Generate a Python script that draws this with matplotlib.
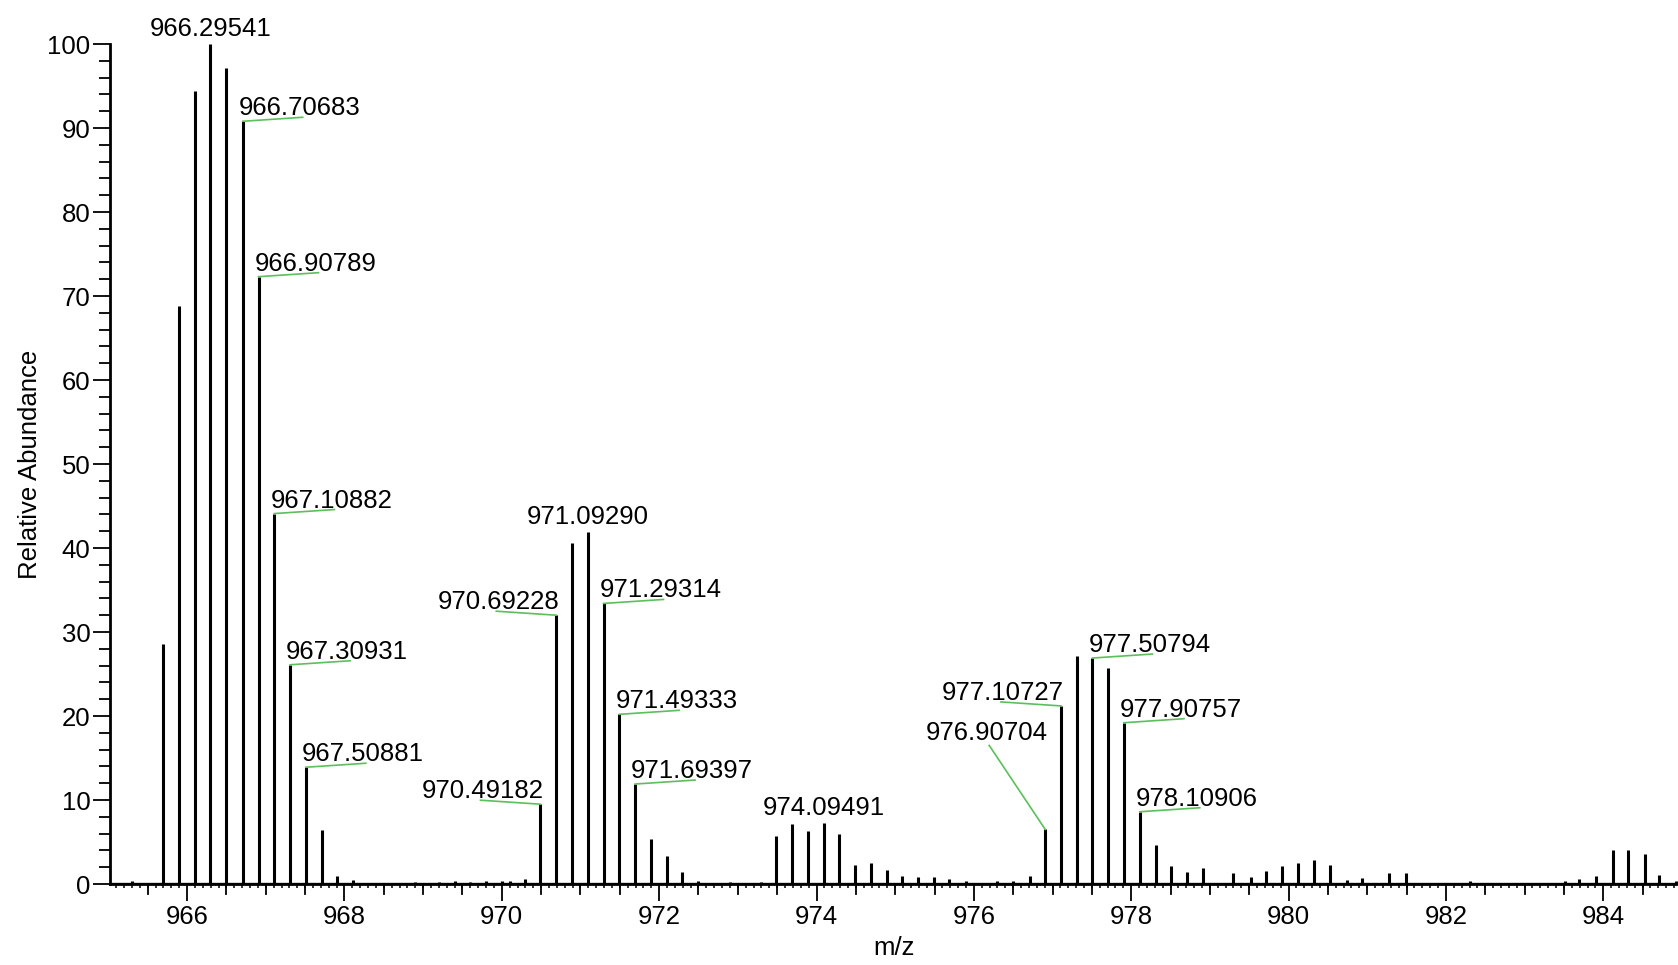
import matplotlib
matplotlib.use('Agg')
import matplotlib.pyplot as plt
from matplotlib.ticker import MultipleLocator

# peak list (m/z, relative abundance)
peak_mz = [
    965.30, 965.695, 965.895, 966.095, 966.29541, 966.50, 966.70683, 966.90789,
    967.10882, 967.30931, 967.50881, 967.71, 967.91, 968.11,
    968.90, 969.20, 969.40, 969.60, 969.80, 970.00, 970.10, 970.29,
    970.49182, 970.69228, 970.892, 971.09290, 971.29314, 971.49333, 971.69397,
    971.894, 972.094, 972.294, 972.49, 972.90, 973.30,
    973.49, 973.69, 973.89, 974.09491, 974.29, 974.49, 974.69, 974.89,
    975.09, 975.29, 975.49, 975.69, 975.90, 976.30, 976.50, 976.71,
    976.90704, 977.10727, 977.307, 977.50794, 977.708, 977.90757, 978.10906,
    978.31, 978.51, 978.71, 978.91, 979.30, 979.52, 979.71, 979.92,
    980.12, 980.32, 980.53, 980.74, 980.93, 981.28, 981.49, 982.30,
    983.52, 983.69, 983.91, 984.12, 984.32, 984.53, 984.71, 984.92,
]
peak_int = [
    0.3, 28.6, 68.8, 94.4, 100.0, 97.1, 90.8, 72.3,
    44.1, 26.1, 13.9, 6.4, 0.9, 0.5,
    0.2, 0.2, 0.3, 0.2, 0.3, 0.4, 0.3, 0.6,
    9.5, 32.0, 40.6, 41.9, 33.4, 20.2, 11.9,
    5.4, 3.3, 1.4, 0.4, 0.2, 0.2,
    5.7, 7.1, 6.3, 7.3, 5.9, 2.3, 2.5, 1.7,
    1.0, 0.8, 0.8, 0.6, 0.4, 0.3, 0.4, 1.0,
    6.5, 21.2, 27.1, 26.9, 25.7, 19.2, 8.6,
    4.6, 2.2, 1.4, 1.9, 1.3, 0.8, 1.6, 2.2,
    2.5, 2.8, 2.3, 0.5, 0.7, 1.3, 1.3, 0.3,
    0.3, 0.6, 0.9, 4.0, 4.0, 3.6, 1.1, 0.4,
]

# labelled peaks and where the label sits
label_mz = [966.29541, 966.70683, 966.90789, 967.10882, 967.30931, 967.50881,
            970.49182, 970.69228, 971.09290, 971.29314, 971.49333, 971.69397,
            974.09491, 976.90704, 977.10727, 977.50794, 977.90757, 978.10906]
label_int = [100.0, 90.8, 72.3, 44.1, 26.1, 13.9,
             9.5, 32.0, 41.9, 33.4, 20.2, 11.9,
             7.3, 6.5, 21.2, 26.9, 19.2, 8.6]
label_side = ['top', 'right', 'right', 'right', 'right', 'right',
              'left', 'left', 'top', 'right', 'right', 'right',
              'top', 'far_left', 'left', 'right', 'right', 'right']

plt.rcParams['font.family'] = ['Liberation Sans', 'DejaVu Sans']
FS = 18.5
GREEN = '#5cbf5c'

W, H = 1678, 965
fig = plt.figure(figsize=(W / 100, H / 100), dpi=100)
ax = fig.add_axes([110 / W, (H - 884) / H, (W - 110) / W, 840 / H])

xmin, xmax = 965.02, 984.95
ax.set_xlim(xmin, xmax)
ax.set_ylim(0, 100)

ax.vlines(peak_mz, 0, peak_int, color='black', lw=2.2, clip_on=False)
ax.axhline(0, color='black', lw=2.4)

# pixel -> data conversion for the leader lines
px_x = (xmax - xmin) / (W - 110)
px_y = 100 / 840

for mz, inten, side in zip(label_mz, label_int, label_side):
    txt = f'{mz:.5f}'
    if side == 'top':
        ax.annotate(txt, (mz, inten), xytext=(0, 8), textcoords='offset pixels',
                    ha='center', va='baseline', fontsize=FS, annotation_clip=False)
    elif side == 'right':
        ax.annotate(txt, (mz, inten), xytext=(-4, 6), textcoords='offset pixels',
                    ha='left', va='baseline', fontsize=FS)
        ax.plot([mz, mz + 60 * px_x], [inten, inten + 4 * px_y], color=GREEN, lw=1.2)
    elif side == 'left':
        ax.annotate(txt, (mz, inten), xytext=(3, 6), textcoords='offset pixels',
                    ha='right', va='baseline', fontsize=FS)
        ax.plot([mz, mz - 60 * px_x], [inten, inten + 4 * px_y], color=GREEN, lw=1.2)
    else:
        ax.annotate(txt, (mz, inten), xytext=(3, 89), textcoords='offset pixels',
                    ha='right', va='baseline', fontsize=FS)
        ax.plot([mz, mz - 56 * px_x], [inten, inten + 84 * px_y], color=GREEN, lw=1.2)

for s in ['top', 'right']:
    ax.spines[s].set_visible(False)
ax.spines['left'].set_linewidth(2)
ax.spines['bottom'].set_linewidth(2)

ax.yaxis.set_major_locator(MultipleLocator(10))
ax.yaxis.set_minor_locator(MultipleLocator(2))
ax.xaxis.set_major_locator(MultipleLocator(2))
ax.xaxis.set_minor_locator(MultipleLocator(0.1))
ax.tick_params(axis='y', which='major', length=12, width=1.3, labelsize=FS, pad=2)
ax.tick_params(axis='y', which='minor', length=8, width=1.3)
ax.tick_params(axis='x', which='major', length=12, width=1.3, labelsize=FS, pad=3)
ax.tick_params(axis='x', which='minor', length=3, width=1.1)

# medium ticks every 0.5
for v in [965 + 0.5 * i for i in range(41)]:
    if xmin <= v <= xmax and v % 2 != 0:
        ax.plot([v, v], [0, -10 * px_y], color='black', lw=1.3, clip_on=False)

ax.set_xlabel('m/z', fontsize=FS, labelpad=5)
ax.set_ylabel('Relative Abundance', fontsize=FS, labelpad=4)

fig.savefig('out.png', dpi=100)
